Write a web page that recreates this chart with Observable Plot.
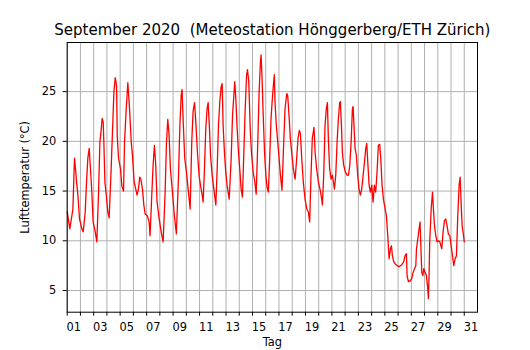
<!DOCTYPE html>
<html>
<head>
<meta charset="utf-8">
<script src="https://cdn.jsdelivr.net/npm/d3@7"></script>
<script src="https://cdn.jsdelivr.net/npm/@observablehq/plot@0.6"></script>
<style>
  html, body { margin: 0; padding: 0; background: white; }
</style>
</head>
<body>
<div id="chart"></div>
<script>
const title = "September 2020  (Meteostation Hönggerberg/ETH Zürich)";
const xLabel = "Tag";
const yLabel = "Lufttemperatur (°C)";

// day of month as fractional number (1.0 = 1 Sep 00:00)
const days = [
  1.00,1.20,1.43,1.55,1.63,1.71,1.81,1.93,2.11,2.21,2.36,2.46,2.56,2.66,2.76,2.86,2.96,3.12,3.24,
  3.37,3.47,3.57,3.64,3.72,3.77,3.85,3.95,4.07,4.17,4.32,4.40,4.53,4.63,4.73,4.78,4.88,5.03,5.13,5.26,
  5.33,5.46,5.58,5.71,5.84,
  5.93,6.06,6.18,6.28,6.38,6.48,6.56,6.69,6.79,6.89,7.06,7.19,7.26,7.39,7.49,7.59,7.69,7.79,7.95,8.10,
  8.25,8.40,8.50,8.60,8.70,8.80,8.95,9.10,9.25,9.41,9.51,9.61,9.68,9.78,9.88,10.01,10.16,10.29,10.41,
  10.51,10.62,10.72,10.84,10.97,
  11.07,11.20,11.27,11.37,11.47,11.57,11.65,11.75,11.83,11.95,12.08,12.23,12.33,12.43,12.53,12.63,12.71,
  12.78,12.88,12.98,13.08,13.24,13.39,13.49,13.59,13.66,13.74,13.84,13.94,14.04,14.14,14.24,14.34,14.45,
  14.55,14.62,14.72,14.82,14.92,15.05,15.18,15.28,15.40,15.50,15.60,15.65,15.73,15.81,15.91,16.01,16.10,
  16.20,16.30,16.40,16.50,16.60,16.65,16.70,16.80,16.91,17.01,17.11,17.23,17.36,17.46,17.59,17.66,17.76,
  17.86,17.96,18.09,18.22,18.34,18.44,18.54,18.62,18.72,18.84,18.97,19.10,19.22,19.32,19.42,19.52,19.65,
  19.73,19.85,19.98,20.10,20.23,20.28,20.38,20.48,20.58,20.66,20.73,20.83,20.94,21.04,21.19,21.29,21.39,
  21.49,21.59,
  21.64,21.72,21.79,21.89,22.02,22.15,22.25,22.35,22.45,22.55,22.60,22.68,22.75,22.85,22.95,23.05,23.15,
  23.25,23.36,23.46,23.56,23.63,23.71,23.81,23.91,24.01,24.11,24.21,24.31,24.41,24.51,24.61,24.69,24.79,
  24.89,25.02,25.12,25.22,25.32,25.42,25.50,25.57,25.67,25.77,25.92,26.08,26.28,26.43,26.53,26.63,
  26.68,26.78,26.93,27.03,27.13,27.24,27.34,27.39,27.49,27.59,27.66,27.71,27.79,27.87,27.94,28.04,28.14,
  28.24,28.29,28.34,28.39,28.50,28.60,28.67,28.75,28.85,28.95,29.05,29.15,29.30,29.40,29.50,29.60,29.70,
  29.80,29.91,30.01,30.11,30.21,30.31,30.41,30.51,30.61,30.69,30.76,30.84,30.91,31.00
];
const temps = [
  12.9,11.2,13.2,18.3,17.2,15.9,14.6,12.2,11.2,10.9,12.9,15.9,18.3,19.3,17.2,14.9,11.9,10.9,9.9,
  14.9,19.9,21.2,22.3,21.9,19.9,15.9,14.6,12.9,12.3,17.2,20.2,25.0,26.4,25.6,20.6,18.3,17.2,15.5,15.0,
  19.9,23.3,25.9,23.3,19.9,
  18.6,15.9,15.2,14.6,15.2,16.4,16.2,15.2,13.6,12.7,12.5,11.9,10.5,14.6,17.6,19.6,17.6,13.9,12.2,10.9,
  9.9,14.9,19.9,22.2,20.6,17.2,14.9,12.5,10.7,16.5,21.5,24.6,25.2,21.5,18.3,16.9,14.9,13.2,19.9,
  23.0,23.9,21.9,18.9,16.5,
  15.6,14.6,13.9,17.2,21.3,23.3,23.9,21.3,18.6,16.6,15.2,13.6,17.2,21.6,24.0,25.5,25.8,
  21.6,18.9,16.9,15.6,14.2,18.3,22.6,24.6,26.0,24.3,21.3,18.9,17.2,15.2,14.4,18.6,23.3,
  26.6,27.2,26.0,21.6,18.9,16.9,15.9,14.7,19.9,25.0,28.0,28.7,26.0,22.6,18.9,16.6,15.4,
  14.9,18.3,22.3,24.3,26.0,26.7,24.0,21.6,19.9,18.3,16.6,15.1,19.9,23.3,24.8,24.6,22.6,
  20.3,18.9,17.2,16.2,18.3,20.3,21.1,20.8,18.3,15.9,14.2,13.2,12.9,11.9,16.6,20.3,21.4,
  18.9,17.2,15.9,15.2,14.2,13.6,16.6,21.6,23.3,23.9,20.3,17.2,16.2,16.6,15.2,16.6,19.9,
  22.3,23.9,
  24.0,21.6,18.9,17.6,16.9,16.6,16.6,17.6,19.9,23.3,23.5,21.3,19.3,18.6,16.6,15.2,14.6,
  15.2,16.6,17.9,19.3,19.8,17.9,15.6,14.9,15.6,13.9,15.6,14.9,16.9,19.6,19.7,18.3,15.6,
  14.2,13.2,12.5,10.5,8.2,9.2,9.5,8.5,7.9,7.7,7.5,7.4,7.6,7.9,8.5,8.7,
  6.5,5.9,6.0,6.2,6.8,7.2,7.5,9.2,10.2,11.2,11.9,9.9,6.8,6.5,7.2,6.8,6.5,
  5.2,4.2,6.5,9.9,13.2,14.9,13.2,11.5,10.5,9.9,10.0,9.9,9.2,10.9,12.0,12.2,11.5,
  10.7,10.5,9.5,8.5,7.5,8.2,8.5,12.5,15.6,16.4,13.9,11.5,10.9,9.9
];

const dayTicks = [1,2,3,4,5,6,7,8,9,10,11,12,13,14,15,16,17,18,19,20,21,22,23,24,25,26,27,28,29,30,31];
const dayLabelPos = [1.5,3.5,5.5,7.5,9.5,11.5,13.5,15.5,17.5,19.5,21.5,23.5,25.5,27.5,29.5,31.5];
const dayLabels = ["01","03","05","07","09","11","13","15","17","19","21","23","25","27","29","31"];
const tempTicks = [5,10,15,20,25];

const data = days.map((d, i) => ({day: d, temp: temps[i]}));

const chart = Plot.plot({
  width: 530,
  height: 350,
  marginLeft: 66.7,
  marginRight: 53,
  marginTop: 42,
  marginBottom: 38.3,
  style: {fontFamily: "DejaVu Sans", fontSize: "11.4px", background: "white", color: "black"},
  x: {domain: [1, 32]},
  y: {domain: [2.82, 29.94]},
  marks: [
    Plot.gridX(dayTicks, {stroke: "#b0b0b0", strokeOpacity: 1, strokeWidth: 1}),
    Plot.gridY(tempTicks, {stroke: "#b0b0b0", strokeOpacity: 1, strokeWidth: 1}),
    Plot.line(data, {x: "day", y: "temp", stroke: "red", strokeWidth: 1.3}),
    Plot.frame({stroke: "black", strokeWidth: 1}),
    Plot.axisX(dayTicks, {tickSize: 4, tickFormat: () => "", label: null}),
    Plot.axisX(dayLabelPos, {
      tickSize: 0, tickPadding: 11,
      tickFormat: d => dayLabels[dayLabelPos.indexOf(d)],
      label: xLabel, labelAnchor: "center", labelArrow: "none", labelOffset: 34
    }),
    Plot.axisY(tempTicks, {
      tickSize: 4, tickPadding: 7,
      label: yLabel, labelAnchor: "center", labelArrow: "none", labelOffset: 46
    }),
    Plot.text([title], {frameAnchor: "top", dy: -8, lineAnchor: "bottom", fontSize: 15, fill: "black"})
  ]
});
document.getElementById("chart").appendChild(chart);
</script>
</body>
</html>
